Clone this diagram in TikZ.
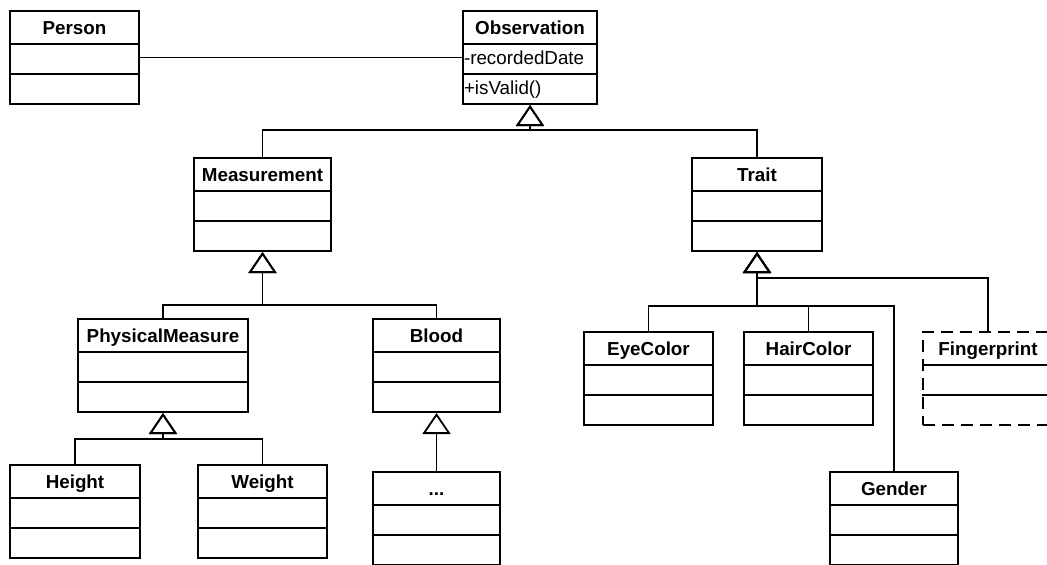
\documentclass[tikz,border=0pt]{standalone}
\usepackage{fontspec}
\setmainfont{Liberation Sans}
\usetikzlibrary{shapes.multipart,arrows.meta}
\newcommand{\cname}[1]{\rule[-4.5pt]{0pt}{15.5pt}#1}

\begin{document}
\begin{tikzpicture}[
    x=0.5pt, y=-0.5pt,
    cls/.style={rectangle split, rectangle split parts=3, draw, line width=1pt, anchor=north west,
        inner xsep=2pt, inner ysep=0pt, font=\fontsize{9.4}{11}\selectfont,
        rectangle split part align={center,left,left},
        execute at begin node={\bfseries\rule[-4.5pt]{0pt}{14pt}}},
    gen/.style={-{Triangle[open, length=10.5pt, width=14pt]}, line width=0.9pt}
]
\useasboundingbox (0,0) rectangle (1047,564);

% top level
\node[cls, minimum width=64.5pt] (person) at (9,10) {\cname{Person}\nodepart{two}\nodepart{three}};
\node[cls, minimum width=67pt, inner xsep=0.5pt] (obs) at (462,10) {\cname{Observation}\nodepart{two}\mdseries-recordedDate\nodepart{three}\mdseries+isValid()};
\draw[line width=0.9pt] (person) -- (obs);

% measurements
\node[cls, minimum width=68.5pt] (meas) at (193,157) {\cname{Measurement}\nodepart{two}\nodepart{three}};
\node[cls, minimum width=85pt] (phys) at (77,318) {\cname{PhysicalMeasure}\nodepart{two}\nodepart{three}};
\node[cls, minimum width=63.5pt] (blood) at (372,318) {\cname{Blood}\nodepart{two}\nodepart{three}};
\node[cls, minimum width=65pt] (height) at (9,464) {\cname{Height}\nodepart{two}\nodepart{three}};
\node[cls, minimum width=64.5pt] (weight) at (197,464) {\cname{Weight}\nodepart{two}\nodepart{three}};
\node[cls, minimum width=63.5pt] (more) at (372,471) {\cname{...}\nodepart{two}\nodepart{three}};

% traits
\node[cls, minimum width=65pt] (trait) at (691,157) {\cname{Trait}\nodepart{two}\nodepart{three}};
\node[cls, minimum width=64.5pt] (eye) at (583,331) {\cname{EyeColor}\nodepart{two}\nodepart{three}};
\node[cls, minimum width=64.5pt] (hair) at (743,331) {\cname{HairColor}\nodepart{two}\nodepart{three}};
\node[cls, minimum width=65pt, rectangle split draw splits=false, dash pattern=on 6pt off 3.5pt] (finger) at (922,331) {\cname{Fingerprint}\nodepart{two}\nodepart{three}};
\draw[line width=1pt] (finger.text split west) -- (finger.text split east);
\draw[line width=1pt] (finger.two split west) -- (finger.two split east);
\node[cls, minimum width=64pt] (gender) at (829,471) {\cname{Gender}\nodepart{two}\nodepart{three}};

% generalizations
\draw[gen] (meas.north) |- ([yshift=-12.5pt]obs.south) -- (obs.south);
\draw[gen] (trait.north) |- ([yshift=-12.5pt]obs.south) -- (obs.south);
\draw[gen] (phys.north) |- ([yshift=-26.5pt]meas.south) -- (meas.south);
\draw[gen] (blood.north) |- ([yshift=-26.5pt]meas.south) -- (meas.south);
\draw[gen] (height.north) |- ([yshift=-13pt]phys.south) -- (phys.south);
\draw[gen] (weight.north) |- ([yshift=-13pt]phys.south) -- (phys.south);
\draw[gen] (more.north) -- (blood.south);
\draw[gen] (finger.north) |- ([yshift=-13pt]trait.south) -- (trait.south);
\draw[gen] (eye.north) |- ([yshift=-27pt]trait.south) -- (trait.south);
\draw[gen] (hair.north) |- ([yshift=-27pt]trait.south) -- (trait.south);
\draw[gen] (gender.north) |- ([yshift=-27pt]trait.south) -- (trait.south);
\end{tikzpicture}
\end{document}
